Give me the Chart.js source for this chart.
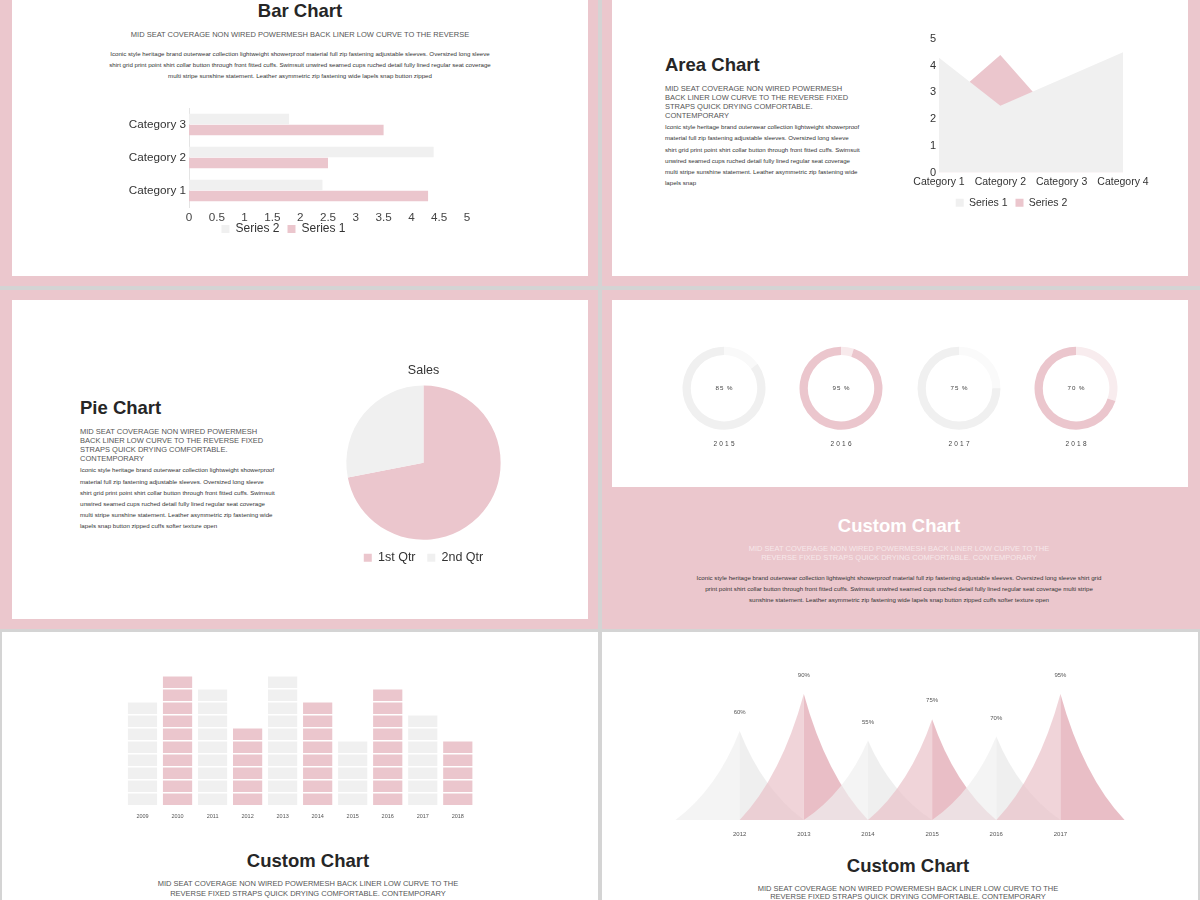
<!DOCTYPE html>
<html>
<head>
<meta charset="utf-8">
<script src="https://cdn.jsdelivr.net/npm/chart.js@4.4.0/dist/chart.umd.min.js"></script>
<style>
  body { margin: 0; width: 1200px; height: 900px; overflow: hidden; position: relative; background: #d4d4d4; font-family: "Liberation Sans", Arial, sans-serif; }
  .r { position: absolute; }
  .pink { background: #ebc7cd; }
  .white { background: #fff; }
  .t { position: absolute; white-space: nowrap; }
  .c { transform: translateX(-50%); text-align: center; }
  .h { font-size: 18.5px; font-weight: bold; color: #262626; line-height: 22px; }
  .caps { font-size: 7.5px; color: #555; }
  .body { font-size: 6.15px; color: #333; }
</style>
</head>
<body>
<!-- fundos dos slides -->
<div class="r pink" style="left:0;top:0;width:598px;height:286px"></div>
<div class="r white" style="left:12px;top:0;width:576px;height:276px"></div>
<div class="r pink" style="left:602px;top:0;width:598px;height:286px"></div>
<div class="r white" style="left:612px;top:0;width:576px;height:276px"></div>
<div class="r pink" style="left:0;top:290px;width:598px;height:339px"></div>
<div class="r white" style="left:12px;top:300px;width:576px;height:319px"></div>
<div class="r pink" style="left:602px;top:290px;width:598px;height:339px"></div>
<div class="r white" style="left:612px;top:300px;width:576px;height:187px"></div>
<div class="r white" style="left:2px;top:632px;width:596px;height:268px"></div>
<div class="r white" style="left:602px;top:632px;width:596px;height:268px"></div>

<!-- textos -->
<div class="t c h" style="left:300px;top:0px">Bar Chart</div>
<div class="t c caps" style="left:300px;top:29.5px;line-height:9px">MID SEAT COVERAGE NON WIRED POWERMESH BACK LINER LOW CURVE TO THE REVERSE</div>
<div class="t c body" style="left:300px;top:47.6px;line-height:11.35px">Iconic style heritage brand outerwear collection lightweight showerproof material full zip fastening adjustable sleeves. Oversized long sleeve<br>shirt grid print point shirt collar button through front fitted cuffs. Swimsuit unwired seamed cups ruched detail fully lined regular seat coverage<br>multi stripe sunshine statement. Leather asymmetric zip fastening wide lapels snap button zipped</div>

<div class="t h" style="left:665px;top:54px">Area Chart</div>
<div class="t caps" style="left:665px;top:83.75px;line-height:9.1px">MID SEAT COVERAGE NON WIRED POWERMESH<br>BACK LINER LOW CURVE TO THE REVERSE FIXED<br>STRAPS QUICK DRYING COMFORTABLE.<br>CONTEMPORARY</div>
<div class="t body" style="left:665px;top:121.1px;line-height:11.2px">Iconic style heritage brand outerwear collection lightweight showerproof<br>material full zip fastening adjustable sleeves. Oversized long sleeve<br>shirt grid print point shirt collar button through front fitted cuffs. Swimsuit<br>unwired seamed cups ruched detail fully lined regular seat coverage<br>multi stripe sunshine statement. Leather asymmetric zip fastening wide<br>lapels snap</div>

<div class="t h" style="left:80px;top:397px">Pie Chart</div>
<div class="t caps" style="left:80px;top:426.5px;line-height:9.1px">MID SEAT COVERAGE NON WIRED POWERMESH<br>BACK LINER LOW CURVE TO THE REVERSE FIXED<br>STRAPS QUICK DRYING COMFORTABLE.<br>CONTEMPORARY</div>
<div class="t body" style="left:80px;top:464.4px;line-height:11.15px">Iconic style heritage brand outerwear collection lightweight showerproof<br>material full zip fastening adjustable sleeves. Oversized long sleeve<br>shirt grid print point shirt collar button through front fitted cuffs. Swimsuit<br>unwired seamed cups ruched detail fully lined regular seat coverage<br>multi stripe sunshine statement. Leather asymmetric zip fastening wide<br>lapels snap button zipped cuffs softer texture open</div>

<div class="t c h" style="left:899px;top:514.7px;color:#fff">Custom Chart</div>
<div class="t c caps" style="left:899px;top:543.8px;line-height:9px;color:rgba(255,255,255,0.6)">MID SEAT COVERAGE NON WIRED POWERMESH BACK LINER LOW CURVE TO THE<br>REVERSE FIXED STRAPS QUICK DRYING COMFORTABLE. CONTEMPORARY</div>
<div class="t c body" style="left:899px;top:571.6px;line-height:11.35px">Iconic style heritage brand outerwear collection lightweight showerproof material full zip fastening adjustable sleeves. Oversized long sleeve shirt grid<br>print point shirt collar button through front fitted cuffs. Swimsuit unwired seamed cups ruched detail fully lined regular seat coverage multi stripe<br>sunshine statement. Leather asymmetric zip fastening wide lapels snap button zipped cuffs softer texture open</div>

<div class="t c h" style="left:308px;top:849.7px">Custom Chart</div>
<div class="t c caps" style="left:308px;top:879.4px;line-height:9.3px">MID SEAT COVERAGE NON WIRED POWERMESH BACK LINER LOW CURVE TO THE<br>REVERSE FIXED STRAPS QUICK DRYING COMFORTABLE. CONTEMPORARY</div>

<div class="t c h" style="left:908px;top:855px">Custom Chart</div>
<div class="t c caps" style="left:908px;top:884.6px;line-height:8.7px">MID SEAT COVERAGE NON WIRED POWERMESH BACK LINER LOW CURVE TO THE<br>REVERSE FIXED STRAPS QUICK DRYING COMFORTABLE. CONTEMPORARY</div>

<script>
// Dados das barras horizontais
const barCategories = ['Category 1', 'Category 2', 'Category 3'];
const barSeries1 = [4.3, 2.5, 3.5];
const barSeries2 = [2.4, 4.4, 1.8];

// Dados da área
const areaCategories = ['Category 1', 'Category 2', 'Category 3', 'Category 4'];
const areaSeries1 = [4.3, 2.5, 3.5, 4.5];
const areaSeries2 = [2.4, 4.4, 1.8, 2.8];

// Dados da pizza
const pieLabels = ['1st Qtr', '2nd Qtr'];
const pieValues = [8.2, 3.2];

// Rosquinhas
const donutYears = ['2015', '2016', '2017', '2018'];
const donutValues = [85, 95, 75, 70];
const donutRest = [15, 5, 25, 30];

// Colunas em blocos
const colYears = ['2009', '2010', '2011', '2012', '2013', '2014', '2015', '2016', '2017', '2018'];
const colBlocks = [8, 10, 9, 6, 10, 8, 5, 9, 7, 5];

// Picos
const spikeYears = [2012, 2013, 2014, 2015, 2016, 2017];
const spikeValues = [60, 90, 55, 75, 70, 95];
const spikeHeights = [67, 95, 60, 76, 63, 95];

const PINK = '#ebc6cd';
const GREY = '#f0f0f0';

Chart.defaults.font.family = '"Liberation Sans", Arial, sans-serif';
Chart.defaults.animation = false;
Chart.defaults.events = [];
Chart.defaults.plugins.tooltip.enabled = false;

// Função para criar canvas posicionado
function criarCanvas(left, top, width, height) {
  const div = document.createElement('div');
  div.style.cssText = `position:absolute;left:${left}px;top:${top}px;width:${width}px;height:${height}px`;
  const canvas = document.createElement('canvas');
  div.appendChild(canvas);
  document.body.appendChild(div);
  return canvas;
}

// Sobe a legenda para perto do eixo
const moverLegenda = {
  id: 'moverLegenda',
  afterLayout(chart, args, opts) {
    chart.legend.top += opts.dy;
    chart.legend.bottom += opts.dy;
  }
};

// Bar Chart
new Chart(criarCanvas(100, 98, 385, 157), {
  type: 'bar',
  data: {
    labels: barCategories.slice().reverse(),
    datasets: [
      { label: 'Series 2', data: barSeries2.slice().reverse(), backgroundColor: GREY },
      { label: 'Series 1', data: barSeries1.slice().reverse(), backgroundColor: PINK }
    ]
  },
  options: {
    indexAxis: 'y',
    responsive: true,
    maintainAspectRatio: false,
    datasets: { bar: { categoryPercentage: 0.66, barPercentage: 0.96 } },
    layout: { padding: { top: 4, right: 18 } },
    scales: {
      x: {
        min: 0, max: 5,
        ticks: { stepSize: 0.5, callback: v => String(v), font: { size: 11.7 }, color: '#444', padding: 4 },
        grid: { display: false, drawTicks: false },
        border: { display: false },
        afterFit: s => { s.height = 18; }
      },
      y: {
        ticks: { font: { size: 11.7 }, color: '#333', padding: 3 },
        grid: { display: false, drawTicks: false },
        border: { color: '#e4e4e4' },
        afterFit: s => { s.width = 89; }
      }
    },
    plugins: {
      moverLegenda: { dy: -10 },
      legend: { position: 'bottom', labels: { boxWidth: 8, boxHeight: 8, padding: 8, font: { size: 12 }, color: '#333' } }
    }
  },
  plugins: [moverLegenda]
});

// Area Chart
new Chart(criarCanvas(900, 28, 262, 190), {
  type: 'line',
  data: {
    labels: areaCategories,
    datasets: [
      { label: 'Series 1', data: areaSeries1, fill: 'origin', backgroundColor: GREY, borderColor: 'transparent', borderWidth: 0, pointRadius: 0 },
      { label: 'Series 2', data: areaSeries2, fill: 'origin', backgroundColor: PINK, borderColor: 'transparent', borderWidth: 0, pointRadius: 0 }
    ]
  },
  options: {
    responsive: true,
    maintainAspectRatio: false,
    layout: { padding: { top: 11, right: 39 } },
    scales: {
      x: {
        offset: false,
        ticks: { font: { size: 10.5 }, color: '#333', padding: 3 },
        grid: { display: false, drawTicks: false },
        border: { display: false },
        afterFit: s => { s.height = 17; }
      },
      y: {
        min: 0, max: 5,
        ticks: { stepSize: 1, font: { size: 11 }, color: '#333', padding: 3 },
        grid: { display: false, drawTicks: false },
        border: { display: false },
        afterFit: s => { s.width = 39; }
      }
    },
    plugins: {
      legend: { position: 'bottom', labels: { boxWidth: 8, boxHeight: 8, padding: 8, font: { size: 10.5 }, color: '#333' } }
    }
  }
});

// Pie Chart
new Chart(criarCanvas(320, 362.5, 207, 211), {
  type: 'pie',
  data: {
    labels: pieLabels,
    datasets: [{ data: pieValues, backgroundColor: [PINK, GREY], borderWidth: 0 }]
  },
  options: {
    responsive: true,
    maintainAspectRatio: false,
    plugins: {
      title: { display: true, text: 'Sales', font: { size: 12.5, weight: 'normal' }, color: '#333', padding: { top: 0, bottom: 7.5 } },
      legend: { position: 'bottom', labels: { boxWidth: 8, boxHeight: 8, padding: 11.75, font: { size: 12.5 }, color: '#333' } }
    }
  }
});

// Rosquinhas
const donutCenters = [723.6, 841, 958.6, 1075.7];
const donutMain = [GREY, PINK, GREY, PINK];
const donutLight = ['#f9f9f9', '#f8eaec', '#fafafa', '#f8ecee'];
donutYears.forEach((ano, i) => {
  new Chart(criarCanvas(donutCenters[i] - 50, 338, 100, 130), {
    type: 'doughnut',
    data: {
      labels: ['', ano],
      datasets: [{ data: [donutRest[i], donutValues[i]], backgroundColor: [donutLight[i], donutMain[i]], borderWidth: 0 }]
    },
    options: {
      responsive: true,
      maintainAspectRatio: false,
      cutout: '80%',
      layout: { padding: { left: 8.5, right: 8.5, top: 8.5, bottom: 38 } },
      plugins: { legend: { display: false } }
    },
    plugins: [{
      id: 'textoRosquinha',
      afterDraw(chart) {
        const { ctx } = chart;
        const arc = chart.getDatasetMeta(0).data[0];
        ctx.save();
        ctx.textAlign = 'center';
        ctx.textBaseline = 'middle';
        ctx.fillStyle = '#444';
        ctx.font = '6.2px "Liberation Sans", Arial, sans-serif';
        ctx.letterSpacing = '1px';
        ctx.fillText(donutValues[i] + ' %', arc.x + 0.5, arc.y);
        ctx.font = '6.5px "Liberation Sans", Arial, sans-serif';
        ctx.letterSpacing = '2.2px';
        ctx.fillText(ano, arc.x + 1.1, 444 - 338);
        ctx.restore();
      }
    }]
  });
});

// Colunas em blocos
new Chart(criarCanvas(110, 665, 380, 155), {
  type: 'bar',
  data: {
    labels: colYears,
    datasets: [{
      data: colBlocks,
      backgroundColor: colYears.map((_, i) => i % 2 ? PINK : GREY),
      barPercentage: 0.834,
      categoryPercentage: 1
    }]
  },
  options: {
    responsive: true,
    maintainAspectRatio: false,
    layout: { padding: { left: 15, right: 14.7, top: 11 } },
    scales: {
      x: {
        ticks: { font: { size: 5.5 }, color: '#555', padding: 7 },
        grid: { display: false, drawTicks: false },
        border: { display: false },
        afterFit: s => { s.height = 14; }
      },
      y: {
        min: 0, max: 10,
        ticks: { display: false, stepSize: 1 },
        grid: { color: '#fff', lineWidth: 1.5, drawTicks: false, z: 1 },
        border: { display: false },
        afterFit: s => { s.width = 0; }
      }
    },
    plugins: { legend: { display: false } }
  }
});

// Picos
const spikePlugin = {
  id: 'picos',
  beforeDatasetsDraw(chart) {
    const { ctx, scales: { x, y } } = chart;
    const base = y.getPixelForValue(0);
    chart.getDatasetMeta(0).data.forEach((pt, i) => {
      const l = x.getPixelForValue(spikeYears[i] - 1);
      const r = x.getPixelForValue(spikeYears[i] + 1);
      const h = base - pt.y;
      const rosa = i % 2 === 1;
      ctx.save();
      // metade esquerda
      ctx.beginPath();
      ctx.moveTo(l, base);
      ctx.quadraticCurveTo(pt.x - (pt.x - l) * 0.35, base - h * 0.35, pt.x, pt.y);
      ctx.lineTo(pt.x, base);
      ctx.closePath();
      ctx.fillStyle = rosa ? 'rgba(234,194,201,0.7)' : 'rgba(239,239,239,0.7)';
      ctx.fill();
      // metade direita
      ctx.beginPath();
      ctx.moveTo(pt.x, pt.y);
      ctx.quadraticCurveTo(pt.x + (r - pt.x) * 0.35, base - h * 0.35, r, base);
      ctx.lineTo(pt.x, base);
      ctx.closePath();
      ctx.fillStyle = rosa ? 'rgba(229,179,188,0.85)' : 'rgba(236,236,236,0.85)';
      ctx.fill();
      ctx.restore();
    });
  },
  afterDatasetsDraw(chart) {
    const { ctx } = chart;
    ctx.save();
    ctx.textAlign = 'center';
    ctx.textBaseline = 'middle';
    ctx.fillStyle = '#555';
    ctx.font = '6px "Liberation Sans", Arial, sans-serif';
    chart.getDatasetMeta(0).data.forEach((pt, i) => {
      ctx.fillText(spikeValues[i] + '%', pt.x, pt.y - 18.5);
    });
    ctx.restore();
  }
};

new Chart(criarCanvas(640, 650, 520, 190), {
  type: 'scatter',
  data: {
    datasets: [{
      data: spikeYears.map((ano, i) => ({ x: ano, y: spikeHeights[i] })),
      pointRadius: 0,
      showLine: false
    }]
  },
  options: {
    responsive: true,
    maintainAspectRatio: false,
    layout: { padding: { left: 35.5, right: 35.4, top: 37.3 } },
    scales: {
      x: {
        type: 'linear',
        min: 2011, max: 2018,
        ticks: { stepSize: 1, callback: v => spikeYears.includes(v) ? String(v) : '', font: { size: 6 }, color: '#555', padding: 11 },
        grid: { display: false, drawTicks: false },
        border: { display: false },
        afterFit: s => { s.height = 20; }
      },
      y: { display: false, min: 0, max: 100 }
    },
    plugins: { legend: { display: false } }
  },
  plugins: [spikePlugin]
});
</script>
</body>
</html>
